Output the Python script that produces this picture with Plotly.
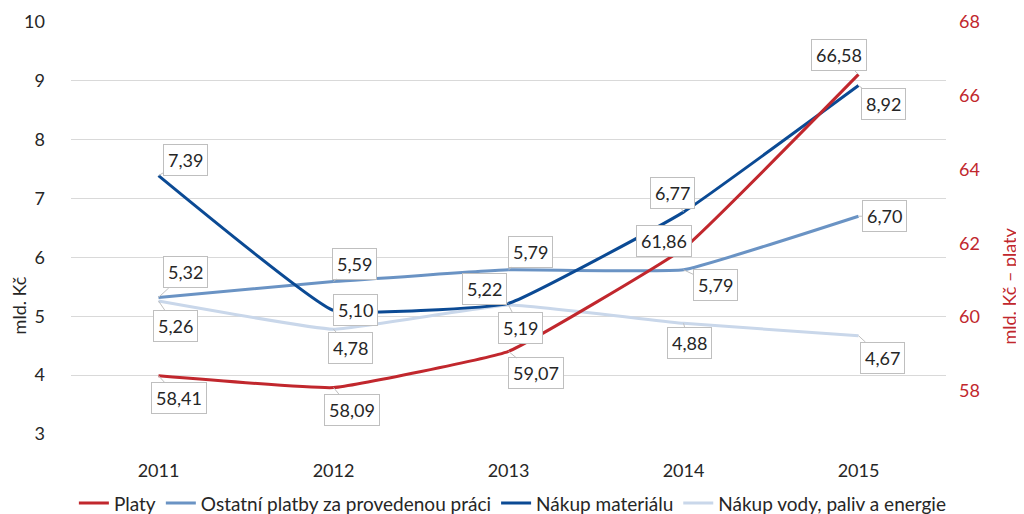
import plotly.graph_objects as go

years = ["2011", "2012", "2013", "2014", "2015"]
platy = [58.41, 58.09, 59.07, 61.86, 66.58]
ostatni = [5.32, 5.59, 5.79, 5.79, 6.70]
material = [7.39, 5.10, 5.22, 6.77, 8.92]
vody = [5.26, 4.78, 5.19, 4.88, 4.67]

names = ["Platy", "Ostatní platby za provedenou práci", "Nákup materiálu", "Nákup vody, paliv a energie"]
colors = ["#C1272D", "#6A93C4", "#0B4A94", "#C9D7EA"]

# label offsets (px) for callouts
off_platy = [(20, 22), (18, 22), (27, 22), (-20, -7), (-20, -19)]
off_ostatni = [(27, -25), (21, -18), (22, -18), (32, 15), (26, 0)]
off_material = [(27, -16), (22, 0), (-24, -14), (-11, -19), (25, 18)]
off_vody = [(17, 25), (17, 19), (12, 23), (6, 20), (24, 22)]

FONT = "Lato"
TXT = "#262626"
RED = "#C1272D"
fig = go.Figure()
series = [(platy, "y2", off_platy), (ostatni, "y", off_ostatni),
          (material, "y", off_material), (vody, "y", off_vody)]
order = [3, 1, 2, 0]
for i in order:
    vals, yax, offs = series[i]
    fig.add_trace(go.Scatter(
        x=years, y=vals, name=names[i], mode="lines", yaxis=yax,
        line=dict(color=colors[i], width=3, shape="spline", smoothing=0.3),
        legendrank=i + 1,
    ))

for i, (vals, yax, offs) in enumerate(series):
    for k, (v, (ax, ay)) in enumerate(zip(vals, offs)):
        fig.add_annotation(
            x=k, y=v, xref="x", yref=yax, text=f"{v:.2f}".replace(".", ","),
            showarrow=True, arrowhead=0, arrowwidth=1, arrowcolor="#BFBFBF",
            ax=ax, ay=ay, bgcolor="white", bordercolor="#BFBFBF", borderwidth=1,
            borderpad=4, font=dict(family=FONT, size=18, color=TXT),
        )

# axis titles
fig.add_annotation(text="mld. Kč", xref="paper", yref="paper", x=-0.059, y=0.313,
                   xanchor="center", yanchor="middle",
                   textangle=-90, showarrow=False, font=dict(family=FONT, size=18, color=TXT))
fig.add_annotation(text="mld. Kč – platy", xref="paper", yref="paper", x=1.0725, y=0.359,
                   xanchor="center", yanchor="middle",
                   textangle=-90, showarrow=False, font=dict(family=FONT, size=18, color=RED))

# the page body adds an 8px offset; size the figure so it ends at the window edge
fig.update_layout(
    width=1016, height=506,
    margin=dict(l=63, r=78, t=14, b=80, autoexpand=False),
    paper_bgcolor="white", plot_bgcolor="white",
    font=dict(family=FONT, size=18, color=TXT),
    showlegend=True,
    legend=dict(orientation="h", x=0.505, xanchor="center",
                y=-0.122, yanchor="top",
                font=dict(family=FONT, size=19, color=TXT), traceorder="normal"),
    xaxis=dict(type="category", range=[-0.5, 4.5], showgrid=False, showline=False,
               ticks="", ticklabelstandoff=24, tickfont=dict(size=18), automargin=False),
    yaxis=dict(range=[3, 10], dtick=1, showgrid=True, gridcolor="#D9D9D9", gridwidth=1,
               zeroline=False, showline=False, ticks="", ticklabelstandoff=25,
               automargin=False),
    yaxis2=dict(range=[56.83, 68], tickvals=[58, 60, 62, 64, 66, 68], overlaying="y",
                side="right", showgrid=False, zeroline=False, showline=False, ticks="",
                ticklabelstandoff=12, tickfont=dict(color=RED, size=18), automargin=False),
)

fig.write_html("out.html")
